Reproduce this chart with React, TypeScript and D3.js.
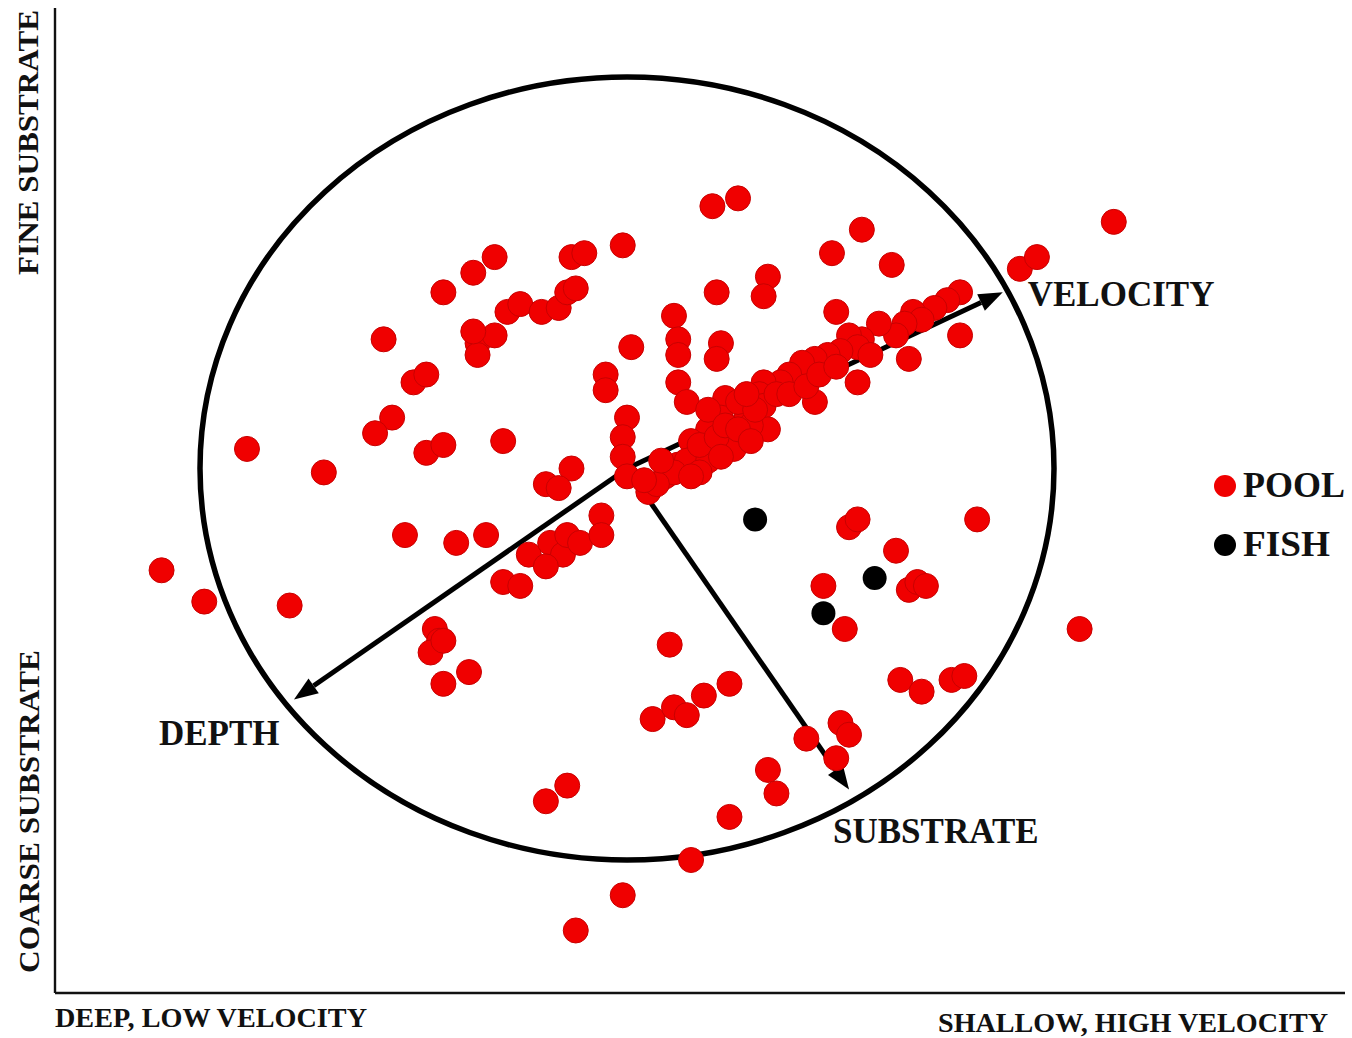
import React from "react";
import * as d3 from "d3";

// Ordination scores (circle of correlation has radius 1)
const poolX = [
  -0.31, -0.36, -0.43, -0.57, -0.50, -0.47, -0.55, -0.59, -0.47, -0.43, -0.29, -0.35, -0.35, -0.31, -0.36,
  -0.28, -0.25, -0.20, -0.16, -0.14, -0.12, -0.13, -0.10, -0.01, 0.20, 0.26, 0.48, 0.55, 0.62, 0.33,
  0.32, 0.21, 0.01, 0.11, 0.12, 0.12, 0.22, 0.21, 0.12, 0.14, -0.05, -0.05, 0.00, -0.01, -0.01,
  0.00, 0.05, 0.49, 0.54, 0.44, 0.66, 0.78, 0.78, 0.75, 0.72, 0.67, 0.69, 0.65, 0.63, 0.59,
  0.55, 0.52, 0.54, 0.57, 0.50, 0.47, 0.44, 0.41, 0.38, 0.36, 0.32, 0.31, 0.32, 0.33, 0.28,
  0.25, 0.23, 0.22, 0.19, 0.15, 0.16, 0.12, 0.09, 0.14, 0.19, 0.25, 0.11, 0.29, 0.19, 0.26,
  1.14, 0.92, 0.96, 0.82, 1.06, -0.89, -0.71, -1.09, -0.99, -0.79, -0.52, -0.40, -0.33, -0.19, -0.13,
  -0.16, -0.23, -0.18, -0.15, -0.19, -0.14, -0.11, -0.06, -0.06, -0.29, -0.25, -0.45, -0.44, -0.46, -0.43,
  -0.43, -0.37, 0.10, 0.06, 0.11, 0.14, 0.18, 0.24, -0.19, -0.14, -0.12, -0.01, 0.15, 0.24, 0.33,
  0.35, 0.42, 0.50, 0.52, 0.49, 0.52, 0.54, 0.63, 0.46, 0.51, 0.66, 0.68, 0.70, 0.64, 0.69,
  0.76, 0.79, 0.07, 0.17, 0.21, 0.23, 0.26, 0.30, 0.28, 0.35, 0.38, 0.17, 0.15, 0.22, 0.29,
  0.42, 0.08, 0.04, 0.45, 0.49,
];
const poolY = [
  0.54, 0.50, 0.45, 0.33, 0.22, 0.24, 0.13, 0.09, 0.04, 0.06, 0.07, 0.32, 0.29, 0.34, 0.35,
  0.40, 0.42, 0.40, 0.41, 0.45, 0.46, 0.54, 0.55, 0.57, 0.67, 0.69, 0.55, 0.61, 0.52, 0.49,
  0.44, 0.45, 0.31, 0.39, 0.33, 0.29, 0.32, 0.28, 0.22, 0.17, 0.24, 0.20, 0.13, 0.08, 0.03,
  -0.02, -0.06, 0.40, 0.22, 0.17, 0.28, 0.34, 0.45, 0.43, 0.41, 0.40, 0.38, 0.37, 0.34, 0.37,
  0.33, 0.34, 0.31, 0.29, 0.30, 0.29, 0.28, 0.27, 0.24, 0.22, 0.22, 0.19, 0.16, 0.10, 0.13,
  0.06, 0.18, 0.13, 0.10, 0.07, 0.03, 0.01, -0.02, 0.02, 0.02, 0.05, -0.01, 0.11, 0.15, 0.17,
  0.63, 0.51, 0.54, -0.13, -0.41, 0.05, -0.01, -0.26, -0.34, -0.35, -0.17, -0.19, -0.17, -0.04, 0.00,
  -0.05, -0.22, -0.19, -0.22, -0.25, -0.17, -0.19, -0.12, -0.17, -0.29, -0.30, -0.41, -0.44, -0.47, -0.44,
  -0.55, -0.52, -0.45, -0.64, -0.61, -0.63, -0.58, -0.55, -0.85, -0.81, -1.18, -1.09, -1.00, -0.89, -0.77,
  -0.83, -0.69, -0.65, -0.68, -0.74, -0.15, -0.13, -0.21, -0.30, -0.41, -0.31, -0.29, -0.30, -0.54, -0.57,
  -0.54, -0.53, -0.04, 0.06, 0.08, 0.11, 0.10, 0.15, 0.19, 0.19, 0.19, -0.01, -0.02, 0.03, 0.07,
  0.21, 0.02, -0.03, 0.24, 0.26,
];
const fishX = [0.30, 0.58, 0.46];
const fishY = [-0.13, -0.28, -0.37];

const vectorNames = ["VELOCITY", "DEPTH", "SUBSTRATE"];
const vectorX = [0.88, -0.78, 0.52];
const vectorY = [0.45, -0.59, -0.82];

const legendLabels = ["POOL", "FISH"];
const legendColors = ["#f00000", "#000000"];

const FONT = "'Liberation Serif', 'Times New Roman', serif";

export default function App() {
  const W = 1352;
  const H = 1038;
  const x = d3.scaleLinear().domain([-1, 1]).range([200, 1054]);
  const y = d3.scaleLinear().domain([-1, 1]).range([860, 77]);
  const cx = x(0);
  const cy = y(0);
  const rx = x(1) - x(0);
  const ry = y(-1) - y(0);

  const labelOffsets = [
    { dx: 25, dy: 14 },
    { dx: -135, dy: 46 },
    { dx: -16, dy: 53 },
  ];

  const arrows = vectorNames.map((name, i) => {
    const tx = x(vectorX[i]);
    const ty = y(vectorY[i]);
    const ang = Math.atan2(ty - cy, tx - cx);
    const len = 24;
    const hw = 9;
    const bx = tx - len * Math.cos(ang);
    const by = ty - len * Math.sin(ang);
    const px = -Math.sin(ang);
    const py = Math.cos(ang);
    const head = `${tx},${ty} ${bx + hw * px},${by + hw * py} ${bx - hw * px},${by - hw * py}`;
    return { name, tx, ty, bx, by, head, off: labelOffsets[i] };
  });

  return (
    <svg
      width={W}
      height={H}
      style={{ position: "absolute", left: 0, top: 0, background: "#fff" }}
      fontFamily={FONT}
      fontWeight="bold"
    >
      <rect width={W} height={H} fill="#fff" />
      {/* axes */}
      <line x1={55} y1={8} x2={55} y2={993} stroke="#111" strokeWidth={2.4} />
      <line x1={55} y1={993} x2={1345} y2={993} stroke="#111" strokeWidth={2.4} />

      {/* axis labels */}
      <text
        transform="translate(38,275) rotate(-90)"
        fontSize={30}
        textLength={265}
        lengthAdjust="spacingAndGlyphs"
        fill="#111"
      >
        FINE SUBSTRATE
      </text>
      <text
        transform="translate(39,973) rotate(-90)"
        fontSize={30}
        textLength={323}
        lengthAdjust="spacingAndGlyphs"
        fill="#111"
      >
        COARSE SUBSTRATE
      </text>
      <text x={55} y={1027} fontSize={27} textLength={312} lengthAdjust="spacingAndGlyphs" fill="#111">
        DEEP, LOW VELOCITY
      </text>
      <text x={938} y={1032} fontSize={27} textLength={390} lengthAdjust="spacingAndGlyphs" fill="#111">
        SHALLOW, HIGH VELOCITY
      </text>

      {/* correlation circle */}
      <ellipse cx={cx} cy={cy} rx={rx} ry={ry} fill="none" stroke="#000" strokeWidth={5.5} />

      {/* vectors */}
      {arrows.map((a) => (
        <g key={a.name}>
          <line x1={cx} y1={cy} x2={a.bx} y2={a.by} stroke="#000" strokeWidth={5} />
          <polygon points={a.head} fill="#000" />
          <text x={a.tx + a.off.dx} y={a.ty + a.off.dy} fontSize={35} fill="#111">
            {a.name}
          </text>
        </g>
      ))}

      {/* pool points */}
      {poolX.map((v, i) => (
        <circle key={"p" + i} cx={x(v)} cy={y(poolY[i])} r={12.5} fill="#f00000" stroke="#c80000" strokeWidth={1} />
      ))}
      {/* fish points */}
      {fishX.map((v, i) => (
        <circle key={"f" + i} cx={x(v)} cy={y(fishY[i])} r={12} fill="#000" />
      ))}

      {/* legend */}
      {legendLabels.map((lab, i) => (
        <g key={lab}>
          <circle cx={1225} cy={486 + i * 59} r={11} fill={legendColors[i]} />
          <text x={1243} y={497 + i * 59} fontSize={35} fill="#111" textLength={i === 0 ? 102 : 87} lengthAdjust="spacingAndGlyphs">
            {lab}
          </text>
        </g>
      ))}
    </svg>
  );
}
